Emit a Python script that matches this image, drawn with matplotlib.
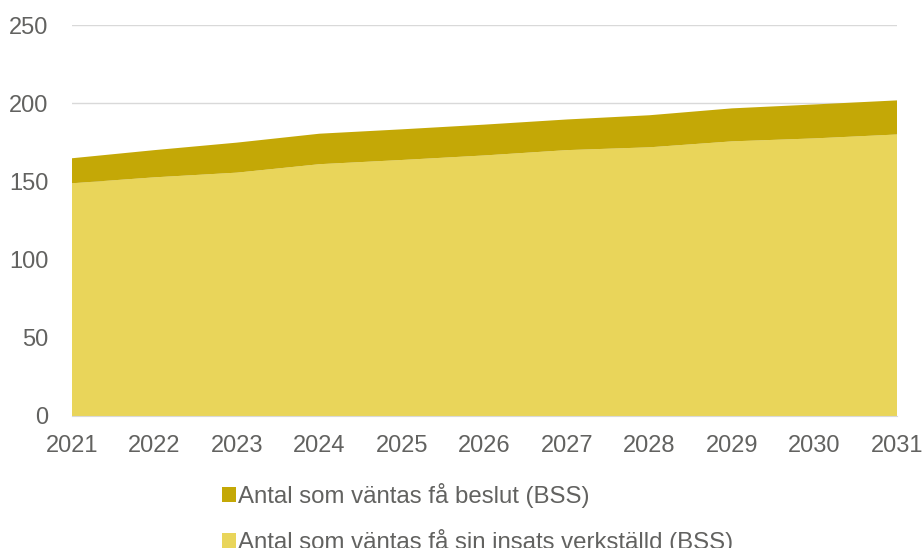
import matplotlib
matplotlib.use("Agg")
import matplotlib.pyplot as plt
from matplotlib.patches import Patch

years = [2021, 2022, 2023, 2024, 2025, 2026, 2027, 2028, 2029, 2030, 2031]
verkstalld = [148.8, 152.6, 155.6, 161.0, 163.7, 166.6, 170.0, 171.8, 175.6, 177.5, 180.0]
beslut_total = [164.8, 170.0, 174.8, 180.5, 183.3, 186.3, 189.6, 192.3, 196.7, 199.2, 201.8]
beslut = [t - v for t, v in zip(beslut_total, verkstalld)]
yticks = [0, 50, 100, 150, 200, 250]

label_beslut = "Antal som väntas få beslut (BSS)"
label_verk = "Antal som väntas få sin insats verkställd (BSS)"

c_dark = "#C4A806"
c_light = "#E9D55A"
c_text = "#626260"

plt.rcParams['font.family'] = ['Liberation Sans', 'DejaVu Sans']

fig = plt.figure(figsize=(9.23, 5.48), dpi=100)
ax = fig.add_axes([72/923, 1-416/548, (897-72)/923, (416-25)/548])

ax.stackplot(years, verkstalld, beslut, colors=[c_light, c_dark], linewidth=0)
ax.set_xlim(2021, 2031)
ax.set_ylim(0, 250)
ax.set_yticks(yticks)
ax.set_xticks(years)
ax.grid(axis='y', color='#D9D9D9', linewidth=1)
ax.set_axisbelow(True)
for s in ['top', 'right', 'left']:
    ax.spines[s].set_visible(False)
ax.spines['bottom'].set_color('#D9D9D9')
ax.tick_params(axis='both', length=0, labelsize=17, labelcolor=c_text)
ax.tick_params(axis='y', pad=17)
ax.tick_params(axis='x', pad=14)

handles = [Patch(facecolor=c_dark, edgecolor='none', label=label_beslut),
           Patch(facecolor=c_light, edgecolor='none', label=label_verk)]
fig.legend(handles=handles, loc='upper left', bbox_to_anchor=(212/923, 1-473/548),
           frameon=False, fontsize=17.3, labelcolor=c_text, handlelength=0.6,
           handleheight=0.6, handletextpad=0.1, labelspacing=0.9, borderaxespad=0)

fig.savefig("out.png", dpi=100)
